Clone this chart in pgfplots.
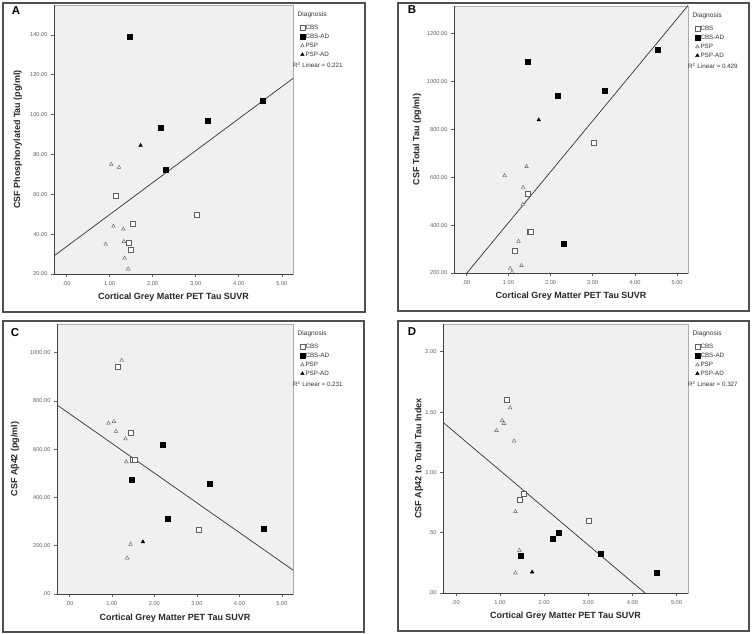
\documentclass[border=0pt]{standalone}
\usepackage{pgfplots}
\pgfplotsset{compat=1.18}
\usepackage{fontspec}
\setmainfont{Liberation Sans}
\definecolor{frame}{HTML}{505050}
\definecolor{tickc}{HTML}{606060}
\pgfplotsset{
  sc/.style={only marks, legend image code/.code={\path (0bp,-1bp) (5bp,1bp); \draw[##1] plot coordinates {(2.5bp,0bp)};}},
  cbs/.style={sc, mark=square*, mark size=2.5bp, mark options={fill=white, draw=gray!75!black, line width=0.5bp}},
  cbsad/.style={sc, mark=square*, mark size=2.5bp, mark options={fill=black, draw=black, line width=0.4bp}},
  psp/.style={sc, mark=triangle*, mark size=2.1bp, mark options={fill=white, draw=gray!75!black, line width=0.45bp}},
  pspad/.style={sc, mark=triangle*, mark size=2.1bp, mark options={fill=black, draw=black, line width=0.4bp}},
  fit/.style={no marks, forget plot, color=black!80, line width=0.7bp},
  panel/.style={
    scale only axis, anchor=south west, clip mode=individual,
    xmin=-0.29, xmax=5.26,
    xtick={0,1,2,3,4,5}, xticklabels={.00,1.00,2.00,3.00,4.00,5.00},
    tick align=outside, tick pos=left, major tick length=3bp,
    tick style={tickc, line width=0.5bp},
    ticklabel style={font=\fontsize{5.7}{6}\selectfont, text=tickc},
    xticklabel style={yshift=-0.7bp},
    axis background/.style={fill=gray!12},
    axis line style={draw=gray!65, line width=0.6bp},
    label style={font=\bfseries\fontsize{9}{10}\selectfont, text=black!85},
    xlabel={Cortical Grey Matter PET Tau SUVR},
    xlabel style={at={(axis description cs:0.5,-0.088)}, anchor=center},
    legend style={at={(1,1)}, anchor=north west, xshift=6.5bp, yshift=-19.5bp,
      draw=none, fill=none, font=\fontsize{6.3}{7}\selectfont, text=black!80,
      row sep=2.3bp, inner sep=0pt,
      nodes={inner sep=0.4bp, text height=4.6bp, text depth=1.2bp, anchor=west}},
    legend cell align=left,
    after end axis/.code={
      \draw[black!75, line width=0.7bp] (rel axis cs:0,1) -- (rel axis cs:0,0) -- (rel axis cs:1,0);
    },
  }
}
\newcommand{\legtext}[1]{%
  \node[anchor=west, font=\fontsize{6.6}{7}\selectfont, text=black!80, inner sep=0pt] at (rel axis cs:1,1) [xshift=4.5bp, yshift=-10bp] {Diagnosis};
  \node[anchor=west, font=\fontsize{6.3}{7}\selectfont, text=black!80, inner sep=0pt] at (rel axis cs:1,1) [xshift=0bp, yshift=-60bp] {R\textsuperscript{2} Linear = #1};
}
\begin{document}
\begin{tikzpicture}
\path[use as bounding box] (0bp,0bp) rectangle (752bp,634bp);
% outer frames
\draw[frame, line width=1.2bp] (3bp,322bp) rectangle (365bp,631bp);
\draw[frame, line width=1.2bp] (398bp,323bp) rectangle (749bp,631bp);
\draw[frame, line width=1.2bp] (3bp,2bp) rectangle (364bp,313bp);
\draw[frame, line width=1.2bp] (398bp,3bp) rectangle (749bp,313bp);
\node[font=\bfseries\fontsize{11.5}{12}\selectfont] at (16bp,623bp) {A};
\node[font=\bfseries\fontsize{11.5}{12}\selectfont] at (412bp,624bp) {B};
\node[font=\bfseries\fontsize{11.5}{12}\selectfont] at (15bp,301bp) {C};
\node[font=\bfseries\fontsize{11.5}{12}\selectfont] at (412bp,302bp) {D};

% ---------------- A
\begin{axis}[panel, at={(54bp,360bp)}, width=239bp, height=269bp,
  ymin=20, ymax=155,
  ytick={20,40,60,80,100,120,140},
  yticklabels={20.00,40.00,60.00,80.00,100.00,120.00,140.00},
  ylabel={CSF Phosphorylated Tau (pg/ml)},
  ylabel style={at={(axis description cs:-0.151,0.5)}, anchor=center}]
\addplot[fit] coordinates {(-0.3,28.9) (5.3,118.8)};
\addplot[cbs] coordinates {(1.14,59.2) (1.53,45.3) (1.45,35.5) (1.49,32.2) (3.02,49.5)};
\addlegendentry{CBS}
\addplot[cbsad] coordinates {(1.46,139) (2.18,93.5) (2.31,72.5) (3.29,97) (4.55,107.2)};
\addlegendentry{CBS-AD}
\addplot[psp] coordinates {(1.04,75) (1.22,73.5) (0.91,35) (1.09,44) (1.32,42.5) (1.33,36.3) (1.35,28) (1.43,22.5)};
\addlegendentry{PSP}
\addplot[pspad] coordinates {(1.72,84.5)};
\addlegendentry{PSP-AD}
\legtext{0.221}
\end{axis}

% ---------------- B
\begin{axis}[panel, at={(454bp,361bp)}, width=234bp, height=267bp,
  ymin=200, ymax=1314,
  ytick={200,400,600,800,1000,1200},
  yticklabels={200.00,400.00,600.00,800.00,1000.00,1200.00},
  ylabel={CSF Total Tau (pg/ml)},
  ylabel style={at={(axis description cs:-0.158,0.5)}, anchor=center}]
\addplot[fit] coordinates {(0.0,196.6) (5.3,1324.4)};
\addplot[cbs] coordinates {(1.14,294) (1.46,529) (1.50,372) (1.53,372) (3.02,744)};
\addlegendentry{CBS}
\addplot[cbsad] coordinates {(1.46,1082) (2.18,940) (2.32,324) (3.29,961) (4.54,1133)};
\addlegendentry{CBS-AD}
\addplot[psp] coordinates {(0.91,606) (1.04,219) (1.09,203) (1.24,332) (1.31,231) (1.34,486) (1.35,557) (1.43,644)};
\addlegendentry{PSP}
\addplot[pspad] coordinates {(1.72,839)};
\addlegendentry{PSP-AD}
\legtext{0.429}
\end{axis}

% ---------------- C
\begin{axis}[panel, at={(57bp,40bp)}, width=236bp, height=270bp,
  ymin=0, ymax=1119,
  ytick={0,200,400,600,800,1000},
  yticklabels={.00,200.00,400.00,600.00,800.00,1000.00},
  ylabel={CSF Aβ42 (pg/ml)},
  ylabel style={at={(axis description cs:-0.178,0.5)}, anchor=center}]
\addplot[fit] coordinates {(-0.3,784.7) (5.3,94.2)};
\addplot[cbs] coordinates {(1.15,943) (1.45,669) (1.50,556) (1.54,556) (3.04,268)};
\addlegendentry{CBS}
\addplot[cbsad] coordinates {(1.47,474) (2.20,617) (2.32,313) (3.30,459) (4.57,272)};
\addlegendentry{CBS-AD}
\addplot[psp] coordinates {(1.23,968) (0.92,708) (1.05,715) (1.10,674) (1.32,643) (1.34,548) (1.44,206) (1.36,149)};
\addlegendentry{PSP}
\addplot[pspad] coordinates {(1.73,216)};
\addlegendentry{PSP-AD}
\legtext{0.231}
\end{axis}

% ---------------- D
\begin{axis}[panel, at={(443bp,41bp)}, width=245bp, height=269bp,
  ymin=0, ymax=2.23,
  ytick={0,0.5,1,1.5,2},
  yticklabels={.00,.50,1.00,1.50,2.00},
  ylabel={CSF Aβ42 to Total Tau Index},
  ylabel style={at={(axis description cs:-0.098,0.5)}, anchor=center}]
\addplot[fit] coordinates {(-0.3,1.418) (4.5,-0.066)};
\addplot[cbs] coordinates {(1.15,1.60) (1.45,0.77) (1.53,0.82) (3.02,0.595)};
\addlegendentry{CBS}
\addplot[cbsad] coordinates {(1.47,0.307) (2.19,0.454) (2.32,0.498) (3.29,0.329) (4.56,0.169)};
\addlegendentry{CBS-AD}
\addplot[psp] coordinates {(1.23,1.535) (1.05,1.43) (1.09,1.405) (0.92,1.347) (1.32,1.259) (1.35,0.675) (1.44,0.354) (1.35,0.166)};
\addlegendentry{PSP}
\addplot[pspad] coordinates {(1.73,0.174)};
\addlegendentry{PSP-AD}
\legtext{0.327}
\end{axis}
\end{tikzpicture}
\end{document}
